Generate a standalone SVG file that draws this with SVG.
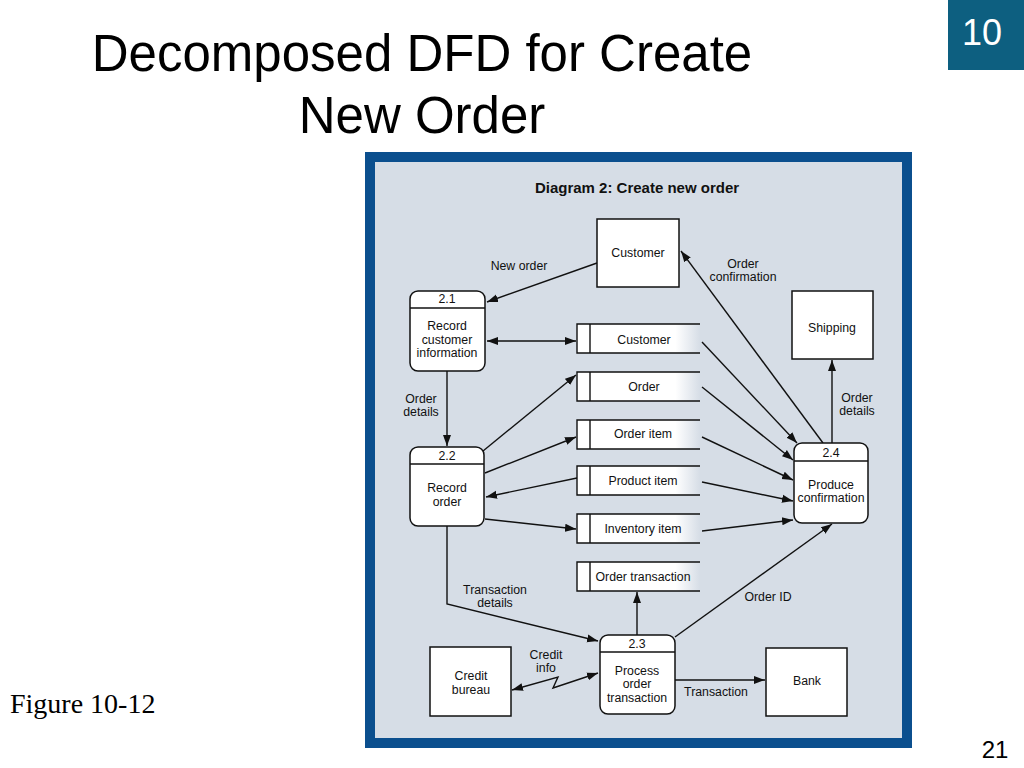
<svg xmlns="http://www.w3.org/2000/svg" width="1024" height="768" viewBox="0 0 1024 768">
<style>
.t{font-family:"Liberation Sans",Arial,sans-serif;font-size:12.3px;fill:#111;text-anchor:middle}
.ttl{font-family:"Liberation Sans",Arial,sans-serif;font-size:51px;fill:#000;text-anchor:middle}
.box{fill:#fff;stroke:#111;stroke-width:1.5}
.ln{fill:none;stroke:#111;stroke-width:1.4}
.st{fill:url(#fade);stroke:none}
</style>
<defs>
<marker id="a" markerUnits="userSpaceOnUse" markerWidth="12" markerHeight="10" refX="11" refY="4" orient="auto-start-reverse" viewBox="0 0 12 8">
<path d="M0,0 L11,4 L0,8 Z" fill="#111"/>
</marker>
<linearGradient id="fade" x1="0" y1="0" x2="1" y2="0">
<stop offset="0.8" stop-color="#fff"/>
<stop offset="1" stop-color="#d6dde6"/>
</linearGradient>
</defs>
<rect width="1024" height="768" fill="#fff"/>
<text class="ttl" x="422" y="71">Decomposed DFD for Create</text>
<text class="ttl" x="422" y="133">New Order</text>
<rect x="948" y="0" width="76" height="70" fill="#0d5f80"/>
<text x="982" y="45" font-family="Liberation Sans,Arial,sans-serif" font-size="36" fill="#fff" text-anchor="middle">10</text>
<text x="10" y="713" font-family="Liberation Serif,Times New Roman,serif" font-size="28" fill="#000">Figure 10-12</text>
<text x="995" y="758" font-family="Liberation Sans,Arial,sans-serif" font-size="24" fill="#000" text-anchor="middle">21</text>
<rect x="365" y="152" width="547" height="596" fill="#0b4f8e"/>
<rect x="375" y="162" width="527" height="576" fill="#d6dde6"/>
<text x="637" y="193" font-family="Liberation Sans,Arial,sans-serif" font-size="15" font-weight="bold" fill="#111" text-anchor="middle">Diagram 2: Create new order</text>

<g id="connectors">
<line class="ln" x1="597" y1="263" x2="487" y2="302" marker-end="url(#a)"/>
<line class="ln" x1="823" y1="443" x2="681" y2="251" marker-end="url(#a)"/>
<line class="ln" x1="832" y1="443" x2="832" y2="360" marker-end="url(#a)"/>
<line class="ln" x1="487" y1="341" x2="576" y2="341" marker-start="url(#a)" marker-end="url(#a)"/>
<line class="ln" x1="447" y1="371" x2="447" y2="446" marker-end="url(#a)"/>
<line class="ln" x1="483" y1="451" x2="576" y2="375" marker-end="url(#a)"/>
<line class="ln" x1="485" y1="473" x2="576" y2="437" marker-end="url(#a)"/>
<line class="ln" x1="577" y1="478" x2="486" y2="497" marker-end="url(#a)"/>
<line class="ln" x1="485" y1="519" x2="576" y2="529" marker-end="url(#a)"/>
<line class="ln" x1="702" y1="342" x2="797" y2="443" marker-end="url(#a)"/>
<line class="ln" x1="702" y1="387" x2="793" y2="460" marker-end="url(#a)"/>
<line class="ln" x1="702" y1="437" x2="793" y2="480" marker-end="url(#a)"/>
<line class="ln" x1="702" y1="482" x2="793" y2="501" marker-end="url(#a)"/>
<line class="ln" x1="702" y1="531" x2="793" y2="520" marker-end="url(#a)"/>
<line class="ln" x1="675" y1="637" x2="832" y2="524" marker-end="url(#a)"/>
<polyline class="ln" points="447,526 447,604 598,641" marker-end="url(#a)"/>
<line class="ln" x1="637" y1="635" x2="637" y2="592" marker-end="url(#a)"/>
<polyline class="ln" points="512,690 558,677 553,688 598,673" marker-start="url(#a)" marker-end="url(#a)"/>
<line class="ln" x1="675" y1="680" x2="765" y2="680" marker-end="url(#a)"/>
<text class="t" x="519" y="270">New order</text>
<text class="t" x="743" y="268">Order</text>
<text class="t" x="743" y="281">confirmation</text>
<text class="t" x="857" y="402">Order</text>
<text class="t" x="857" y="415">details</text>
<text class="t" x="421" y="403">Order</text>
<text class="t" x="421" y="416">details</text>
<text class="t" x="768" y="601">Order ID</text>
<text class="t" x="495" y="594">Transaction</text>
<text class="t" x="495" y="607">details</text>
<text class="t" x="546" y="659">Credit</text>
<text class="t" x="546" y="672">info</text>
<text class="t" x="716" y="696">Transaction</text>
</g>

<g id="ext-customer"><rect class="box" x="597" y="219" width="82" height="68"/><text class="t" x="638" y="257">Customer</text></g>
<g id="ext-shipping"><rect class="box" x="792" y="291" width="81" height="68"/><text class="t" x="832" y="332">Shipping</text></g>
<g id="ext-credit"><rect class="box" x="430" y="647" width="81" height="69"/><text class="t" x="471" y="680">Credit</text><text class="t" x="471" y="694">bureau</text></g>
<g id="ext-bank"><rect class="box" x="766" y="648" width="81" height="68"/><text class="t" x="807" y="685">Bank</text></g>

<g id="p21"><rect class="box" x="410" y="291" width="75" height="80" rx="8"/><line class="ln" x1="410" y1="308" x2="485" y2="308"/><text class="t" x="447" y="303">2.1</text><text class="t" x="447" y="330">Record</text><text class="t" x="447" y="344">customer</text><text class="t" x="447" y="357">information</text></g>
<g id="p22"><rect class="box" x="410" y="447" width="74" height="79" rx="8"/><line class="ln" x1="410" y1="464" x2="484" y2="464"/><text class="t" x="447" y="460">2.2</text><text class="t" x="447" y="492">Record</text><text class="t" x="447" y="506">order</text></g>
<g id="p24"><rect class="box" x="794" y="443" width="74" height="80" rx="8"/><line class="ln" x1="794" y1="461" x2="868" y2="461"/><text class="t" x="831" y="457">2.4</text><text class="t" x="831" y="489">Produce</text><text class="t" x="831" y="502">confirmation</text></g>
<g id="p23"><rect class="box" x="600" y="635" width="75" height="79" rx="8"/><line class="ln" x1="600" y1="652" x2="675" y2="652"/><text class="t" x="637" y="648">2.3</text><text class="t" x="637" y="675">Process</text><text class="t" x="637" y="688">order</text><text class="t" x="637" y="702">transaction</text></g>

<g id="ds-customer"><rect class="st" x="577" y="324" width="123" height="29"/><path class="ln" d="M700,324 H577 V353 H700 M590,324 V353"/><text class="t" x="644" y="344">Customer</text></g>
<g id="ds-order"><rect class="st" x="577" y="372" width="123" height="29"/><path class="ln" d="M700,372 H577 V401 H700 M590,372 V401"/><text class="t" x="644" y="391">Order</text></g>
<g id="ds-orderitem"><rect class="st" x="577" y="420" width="123" height="29"/><path class="ln" d="M700,420 H577 V449 H700 M590,420 V449"/><text class="t" x="643" y="438">Order item</text></g>
<g id="ds-productitem"><rect class="st" x="577" y="466" width="123" height="29"/><path class="ln" d="M700,466 H577 V495 H700 M590,466 V495"/><text class="t" x="643" y="485">Product item</text></g>
<g id="ds-inventory"><rect class="st" x="577" y="514" width="123" height="29"/><path class="ln" d="M700,514 H577 V543 H700 M590,514 V543"/><text class="t" x="643" y="533">Inventory item</text></g>
<g id="ds-ordertrans"><rect class="st" x="577" y="562" width="123" height="29"/><path class="ln" d="M700,562 H577 V591 H700 M590,562 V591"/><text class="t" x="643" y="581">Order transaction</text></g>
</svg>
